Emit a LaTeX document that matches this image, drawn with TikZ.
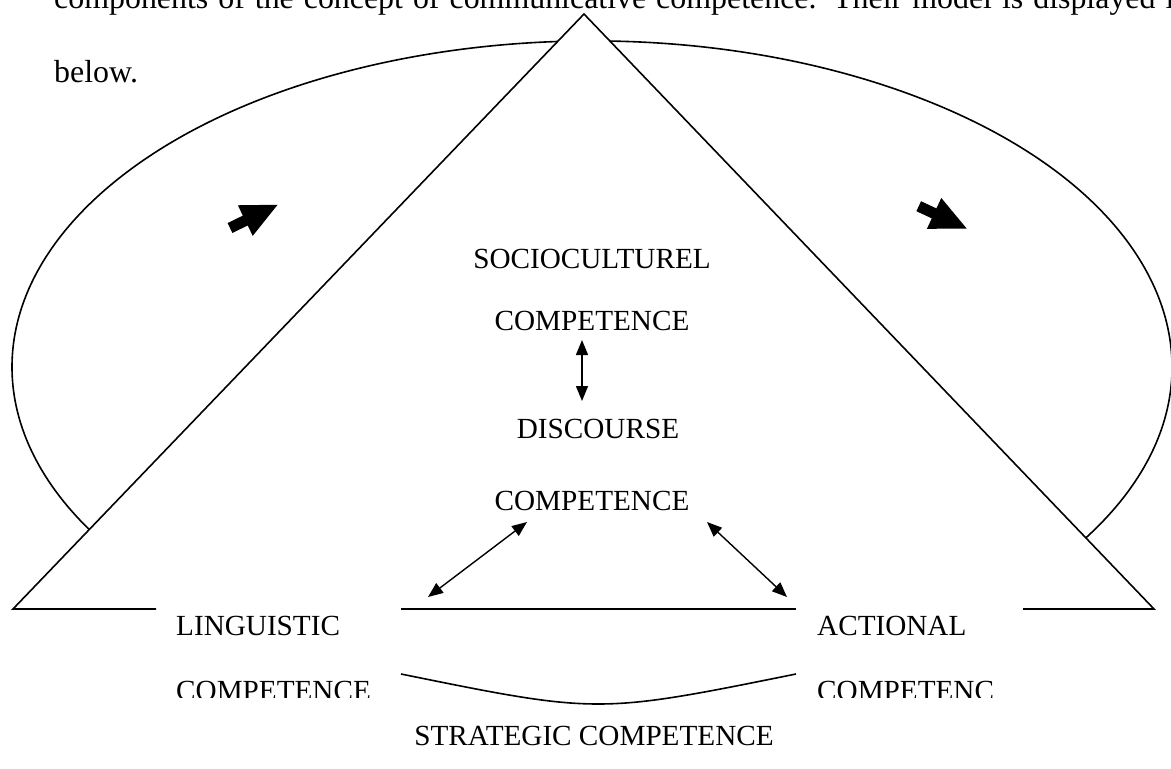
\documentclass[tikz,border=0pt]{standalone}
\usepackage{fontspec}
\setmainfont{Liberation Serif}
\usepackage{tikz}
\usetikzlibrary{arrows.meta}

\begin{document}
\begin{tikzpicture}[x=1pt,y=-1pt,
  txt/.style={inner sep=0pt,font=\fontsize{29.2}{35}\selectfont},
  body/.style={inner sep=0pt,font=\fontsize{31.9}{38}\selectfont},
  edge/.style={line width=1.6pt},
  link/.style={line width=1.4pt,{Triangle[length=15pt,width=12pt]}-{Triangle[length=15pt,width=12pt]}},
  blockarrow/.style={fill=black}]
  \useasboundingbox (0,0) rectangle (1171,769);
  \clip (0,0) rectangle (1171,769);
  \fill[white] (0,0) rectangle (1171,769);

  % open ellipse behind, triangle on top of it
  \draw[edge] (1078.4,544.5) arc [start angle=33, end angle=-211, x radius=580, y radius=326];
  \fill[white] (13,609) -- (584,14) -- (1154,609) -- cycle;
  \draw[edge] (156,609) -- (13,609) -- (584,14) -- (1154,609) -- (1023,609);
  \draw[edge] (401,609) -- (796,609);
  \draw[edge] (401,674) .. controls (598,714) .. (796,674);

  \fill[blockarrow,shift={(230,228)},rotate=26] (0,-5.5) -- (17,-5.5) -- (17,-17) -- (53,0) -- (17,17) -- (17,5.5) -- (0,5.5) -- cycle;
  \fill[blockarrow,shift={(918.7,206.2)},rotate=-25] (0,-5.5) -- (17,-5.5) -- (17,-17) -- (53,0) -- (17,17) -- (17,5.5) -- (0,5.5) -- cycle;

  \node[body,anchor=base west] (intro) at (54,8) {\makebox[1136pt][s]{components of the concept of communicative competence. Their model is displayed in}};
  \node[body,anchor=base west] (below) at (54,82) {below.};
  \node[txt,anchor=base] (socio) at (592,268) {SOCIOCULTUREL};
  \node[txt,anchor=base] (sociocomp) at (592,330) {COMPETENCE};
  \node[txt,anchor=base] (disc) at (598,438) {DISCOURSE};
  \node[txt,anchor=base] (disccomp) at (592,510) {COMPETENCE};
  \node[txt,anchor=base west] (ling) at (176,635) {LINGUISTIC};
  \node[txt,anchor=base west] (act) at (817,635) {ACTIONAL};
  \begin{scope}
    \clip (0,0) rectangle (1171,697);
    \node[txt,anchor=base west] (lingcomp) at (176,700) {COMPETENCE};
    \node[txt,anchor=base west] (actcomp) at (817,700) {COMPETENC};
  \end{scope}
  \node[txt,anchor=base] (strat) at (594,745) {STRATEGIC COMPETENCE};

  \coordinate (vtop) at (582,340);
  \coordinate (vbot) at (582,401);
  \coordinate (lnear) at (428,597);
  \coordinate (lfar) at (527,522);
  \coordinate (rfar) at (707,522);
  \coordinate (rnear) at (787,597);
  \draw[link] (vtop) -- (vbot);
  \draw[link] (lnear) -- (lfar);
  \draw[link] (rfar) -- (rnear);
\end{tikzpicture}
\end{document}
